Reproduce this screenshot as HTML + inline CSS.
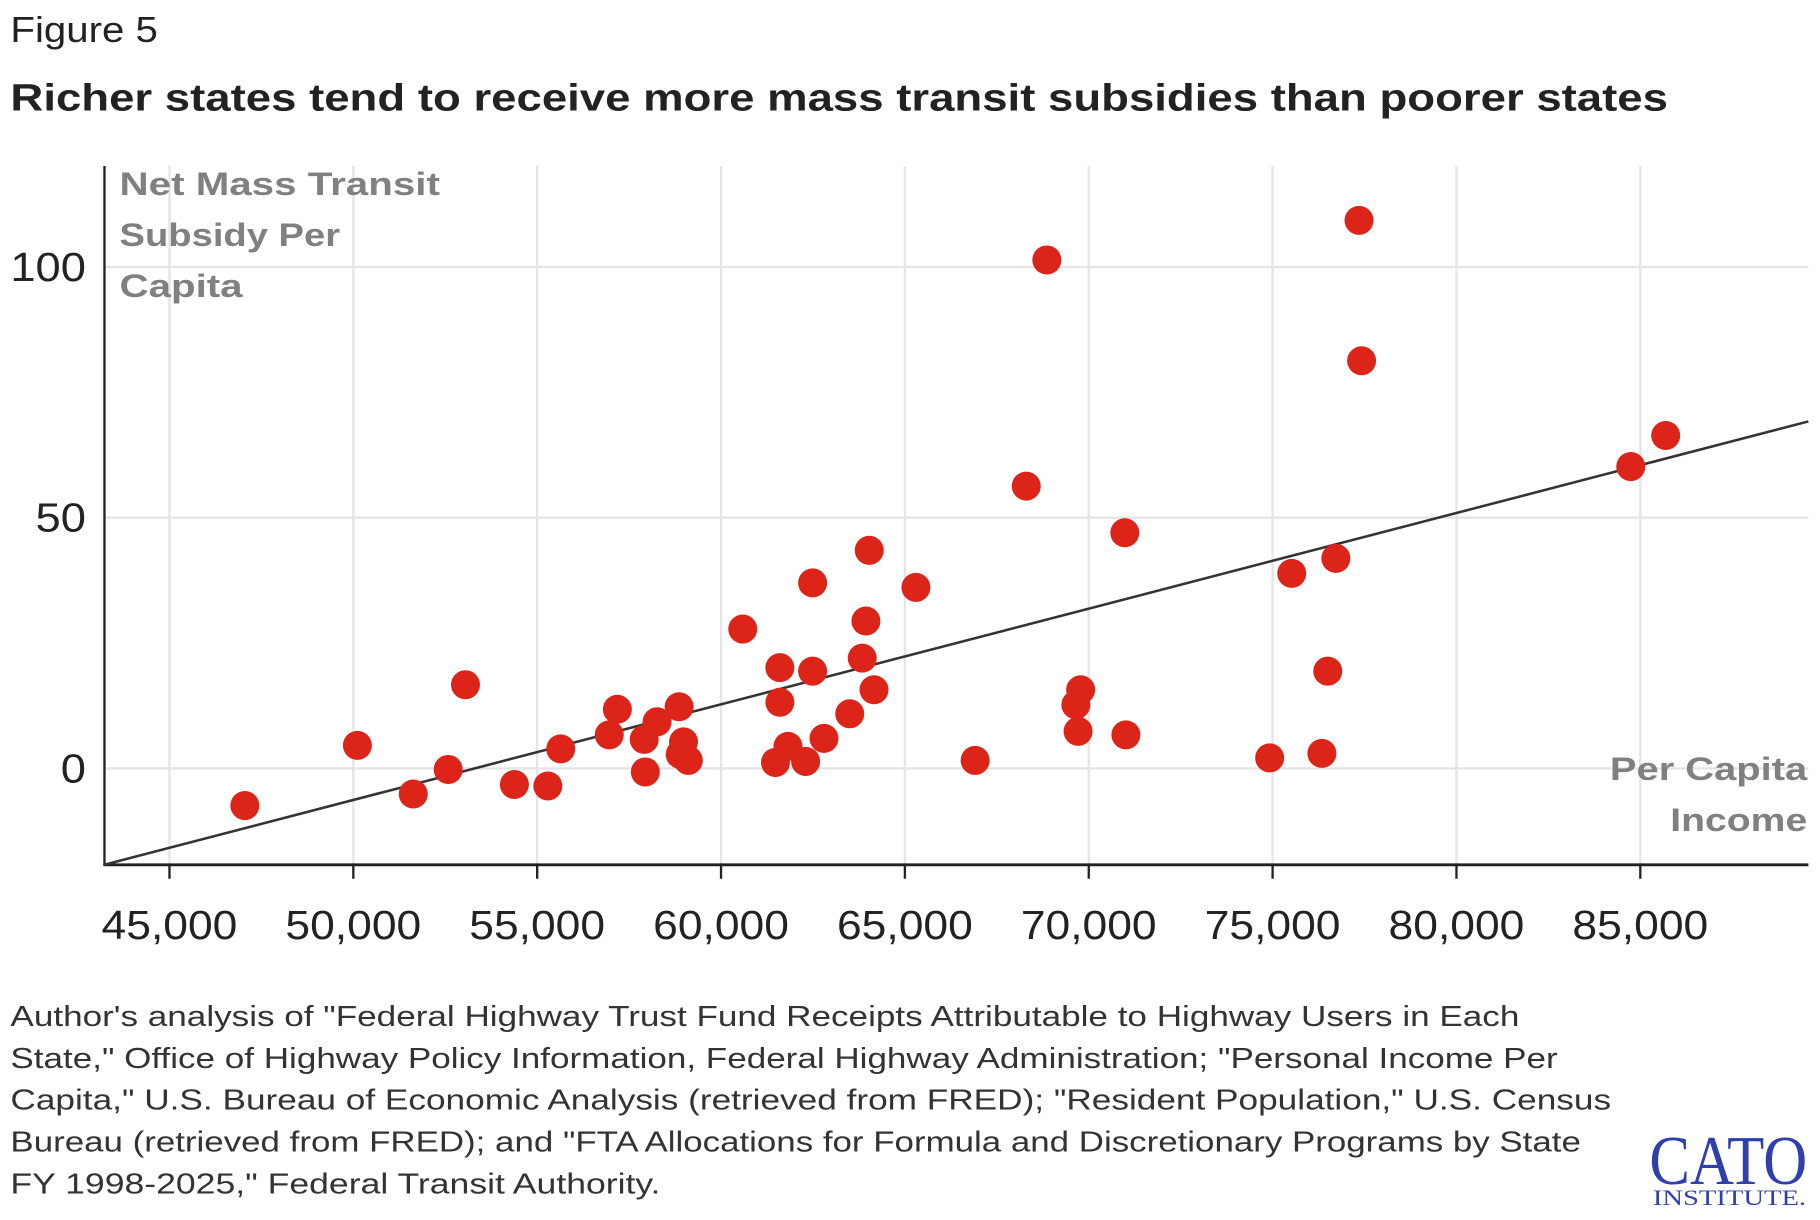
<!DOCTYPE html>
<html><head><meta charset="utf-8"><style>
html,body{margin:0;padding:0;background:#fff;width:1820px;height:1220px;overflow:hidden}
svg{display:block}
text{font-family:"Liberation Sans",sans-serif}
</style></head><body>
<svg id="chart" width="1820" height="1220" viewBox="0 0 1568 1051" preserveAspectRatio="none">
<text x="9" y="36" font-size="31" fill="#222" textLength="127" lengthAdjust="spacingAndGlyphs">Figure 5</text>
<text x="9" y="95" font-size="33" font-weight="bold" fill="#222" textLength="1428" lengthAdjust="spacingAndGlyphs">Richer states tend to receive more mass transit subsidies than poorer states</text>
<g id="grid"></g>
<g id="ticks"></g>
<line x1="90" y1="143" x2="90" y2="745" stroke="#222" stroke-width="2"/>
<line x1="89" y1="745" x2="1558" y2="745" stroke="#222" stroke-width="2.5"/>
<g font-size="28" font-weight="bold" fill="#808080">
<text x="103" y="168" textLength="276" lengthAdjust="spacingAndGlyphs">Net Mass Transit</text>
<text x="103" y="212" textLength="190" lengthAdjust="spacingAndGlyphs">Subsidy Per</text>
<text x="103" y="256" textLength="106" lengthAdjust="spacingAndGlyphs">Capita</text>
</g>
<g font-size="28" font-weight="bold" fill="#808080" text-anchor="end">
<text x="1557" y="672" textLength="170" lengthAdjust="spacingAndGlyphs">Per Capita</text>
<text x="1557" y="716" textLength="118" lengthAdjust="spacingAndGlyphs">Income</text>
</g>
<g id="marks"></g>
<g font-size="25" fill="#333">
<text x="9" y="884" textLength="1300" lengthAdjust="spacingAndGlyphs">Author's analysis of "Federal Highway Trust Fund Receipts Attributable to Highway Users in Each</text>
<text x="9" y="920" textLength="1333" lengthAdjust="spacingAndGlyphs">State," Office of Highway Policy Information, Federal Highway Administration; "Personal Income Per</text>
<text x="9" y="956" textLength="1379" lengthAdjust="spacingAndGlyphs">Capita," U.S. Bureau of Economic Analysis (retrieved from FRED); "Resident Population," U.S. Census</text>
<text x="9" y="992" textLength="1353" lengthAdjust="spacingAndGlyphs">Bureau (retrieved from FRED); and "FTA Allocations for Formula and Discretionary Programs by State</text>
<text x="9" y="1028" textLength="560" lengthAdjust="spacingAndGlyphs">FY 1998-2025," Federal Transit Authority.</text>
</g>
<g fill="#2f3fae">
<text x="1421" y="1020" font-size="60" style="font-family:'Liberation Serif',serif" textLength="136" lengthAdjust="spacingAndGlyphs">CATO</text>
<text x="1424" y="1038" font-size="19" style="font-family:'Liberation Serif',serif" textLength="132" lengthAdjust="spacingAndGlyphs">INSTITUTE.</text>
</g>
</svg>
<script>
const xTicks=[45000,50000,55000,60000,65000,70000,75000,80000,85000];
const yTicks=[0,50,100];
const incomes=[47050,50110,51630,52580,53050,54380,55290,55640,56960,57180,57910,57940,58260,58860,58980,58890,59110,60590,61480,61600,61600,61820,62300,62490,62490,62800,63500,63840,63940,64030,64160,65300,66910,68300,68860,69650,69710,69780,70980,71010,74920,75520,76340,76500,76720,77350,77420,84740,85690];
const subsidies=[-7.4,4.6,-5.1,-0.2,16.7,-3.2,-3.5,3.9,6.7,11.8,5.8,-0.7,9.3,12.3,5.3,2.8,1.6,27.8,1.2,20.1,13.2,4.4,1.4,37.0,19.4,6.0,10.9,22.0,29.4,43.5,15.7,36.1,1.6,56.3,101.4,12.7,7.4,15.7,47.0,6.7,2.1,38.9,3.0,19.4,41.9,109.3,81.3,60.2,66.4];
const trendX=[43230,89570];
const trendY=[-19.2,69.2];
const NS='http://www.w3.org/2000/svg';
function sx(v){return 146+(v-45000)*0.03168;}
function sy(v){return 662-v*4.32;}
function mk(t,a,p){const e=document.createElementNS(NS,t);for(const k in a)e.setAttribute(k,a[k]);p.appendChild(e);return e;}
const grid=document.getElementById('grid'),ticks=document.getElementById('ticks'),marks=document.getElementById('marks');
xTicks.forEach(v=>{
 const g=mk('line',{x1:sx(v),x2:sx(v),y1:143,y2:745,stroke:'#e5e5e5','stroke-width':2},grid);
 
 
 const t=mk('line',{x1:sx(v),x2:sx(v),y1:745,y2:757,stroke:'#222','stroke-width':2},ticks);
 
 
 const l=mk('text',{x:sx(v),y:809,'font-size':35,fill:'#222','text-anchor':'middle',textLength:117,lengthAdjust:'spacingAndGlyphs'},ticks);
 l.textContent=v.toLocaleString('en-US');
 
 
});
yTicks.forEach(v=>{
 const s=String(v);
 const l=mk('text',{x:74,y:sy(v)+12,'font-size':35,fill:'#222','text-anchor':'end',textLength:s.length*21.7,lengthAdjust:'spacingAndGlyphs'},ticks);
 l.textContent=s;
 
 
 const g=mk('line',{x1:90,x2:1558,y1:sy(v),y2:sy(v),stroke:'#e5e5e5','stroke-width':2},grid);
 
 
});
const tl=mk('line',{x1:sx(trendX[0]),y1:sy(trendY[0]),x2:sx(trendX[1]),y2:sy(trendY[1]),stroke:'#333','stroke-width':2.2},marks);


incomes.forEach((x,i)=>{
 const c=mk('circle',{cx:sx(x),cy:sy(subsidies[i]),r:12.5,fill:'#dd2418'},marks);
 
 
});
</script>
</body></html>
